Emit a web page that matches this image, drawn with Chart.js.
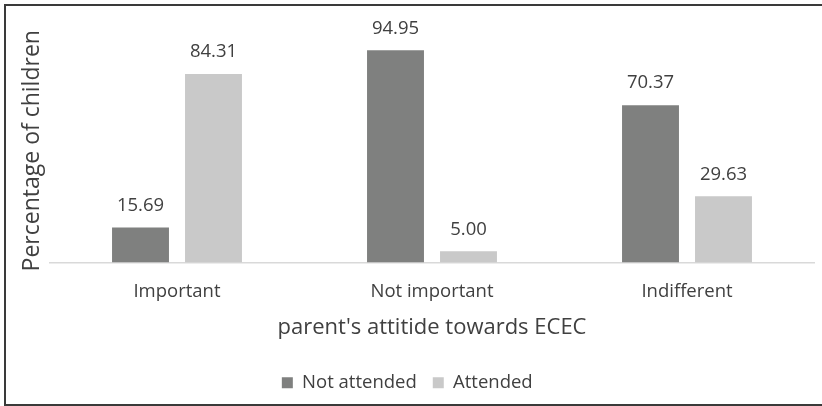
<!DOCTYPE html>
<html>
<head>
<meta charset="utf-8">
<script src="https://cdn.jsdelivr.net/npm/chart.js@4.4.1/dist/chart.umd.min.js"></script>
<style>
    html, body { margin: 0; padding: 0; background: #ffffff; overflow: hidden; }
    #wrap { position: relative; width: 822px; height: 406px; overflow: hidden; }
    #frame {
        position: absolute; left: 4px; top: 4px; width: 816px; height: 398px;
        border-left: 2px solid #3a3a3a; border-top: 2px solid #3a3a3a; border-bottom: 2px solid #3a3a3a;
        box-sizing: content-box; pointer-events: none;
    }
    canvas { position: absolute; left: 0; top: 0; }
</style>
</head>
<body>
<div id="wrap">
    <canvas id="attChart" width="822" height="406"></canvas>
    <div id="frame"></div>
</div>
<script>
// Données du graphique
const categories = ['Important', 'Not important', 'Indifferent'];
const notAttended = [15.69, 94.95, 70.37];
const attended = [84.31, 5.00, 29.63];

const textColor = '#404040';
const fontFamily = "'Open Sans', sans-serif";

// Etiquettes de valeurs au-dessus des barres
const valueLabels = {
    id: 'valueLabels',
    afterDatasetsDraw(chart) {
        const ctx = chart.ctx;
        ctx.save();
        ctx.font = '18.5px ' + fontFamily;
        ctx.fillStyle = textColor;
        ctx.textAlign = 'center';
        ctx.textBaseline = 'middle';
        chart.data.datasets.forEach((ds, i) => {
            chart.getDatasetMeta(i).data.forEach((bar, j) => {
                ctx.fillText(ds.data[j].toFixed(2), bar.x, bar.y - 22);
            });
        });
        ctx.restore();
    }
};

const ctx = document.getElementById('attChart').getContext('2d');
new Chart(ctx, {
    type: 'bar',
    data: {
        labels: categories,
        datasets: [{
            label: 'Not attended',
            data: notAttended,
            backgroundColor: '#7f807f',
            categoryPercentage: 0.5725,
            barPercentage: 0.78
        }, {
            label: 'Attended',
            data: attended,
            backgroundColor: '#c9c9c9',
            categoryPercentage: 0.5725,
            barPercentage: 0.78
        }]
    },
    options: {
        responsive: false,
        animation: false,
        layout: { padding: { top: 39, right: 7.5, left: 0, bottom: 4 } },
        plugins: {
            tooltip: { enabled: false },
            legend: {
                position: 'bottom',
                labels: {
                    boxWidth: 11,
                    boxHeight: 11,
                    padding: 16,
                    color: textColor,
                    font: { family: fontFamily, size: 18.5 }
                }
            }
        },
        scales: {
            x: {
                grid: { display: false, drawTicks: false },
                border: { display: true, color: '#d9d9d9', width: 1.5 },
                ticks: { color: textColor, padding: 18, font: { family: fontFamily, size: 18.5 } },
                title: {
                    display: true,
                    text: "parent's attitide towards ECEC",
                    color: textColor,
                    font: { family: fontFamily, size: 22 },
                    padding: { top: 0, bottom: 17 }
                },
                afterFit(scale) { scale.height = 95; }
            },
            y: {
                min: 0,
                max: 100,
                grid: { display: false, drawTicks: false },
                border: { display: false },
                ticks: { display: false },
                title: {
                    display: true,
                    text: 'Percentage of children',
                    color: textColor,
                    font: { family: fontFamily, size: 23 },
                    padding: { top: 19, bottom: 0 }
                },
                afterFit(scale) { scale.width = 49.5; }
            }
        }
    },
    plugins: [valueLabels]
});
</script>
</body>
</html>
